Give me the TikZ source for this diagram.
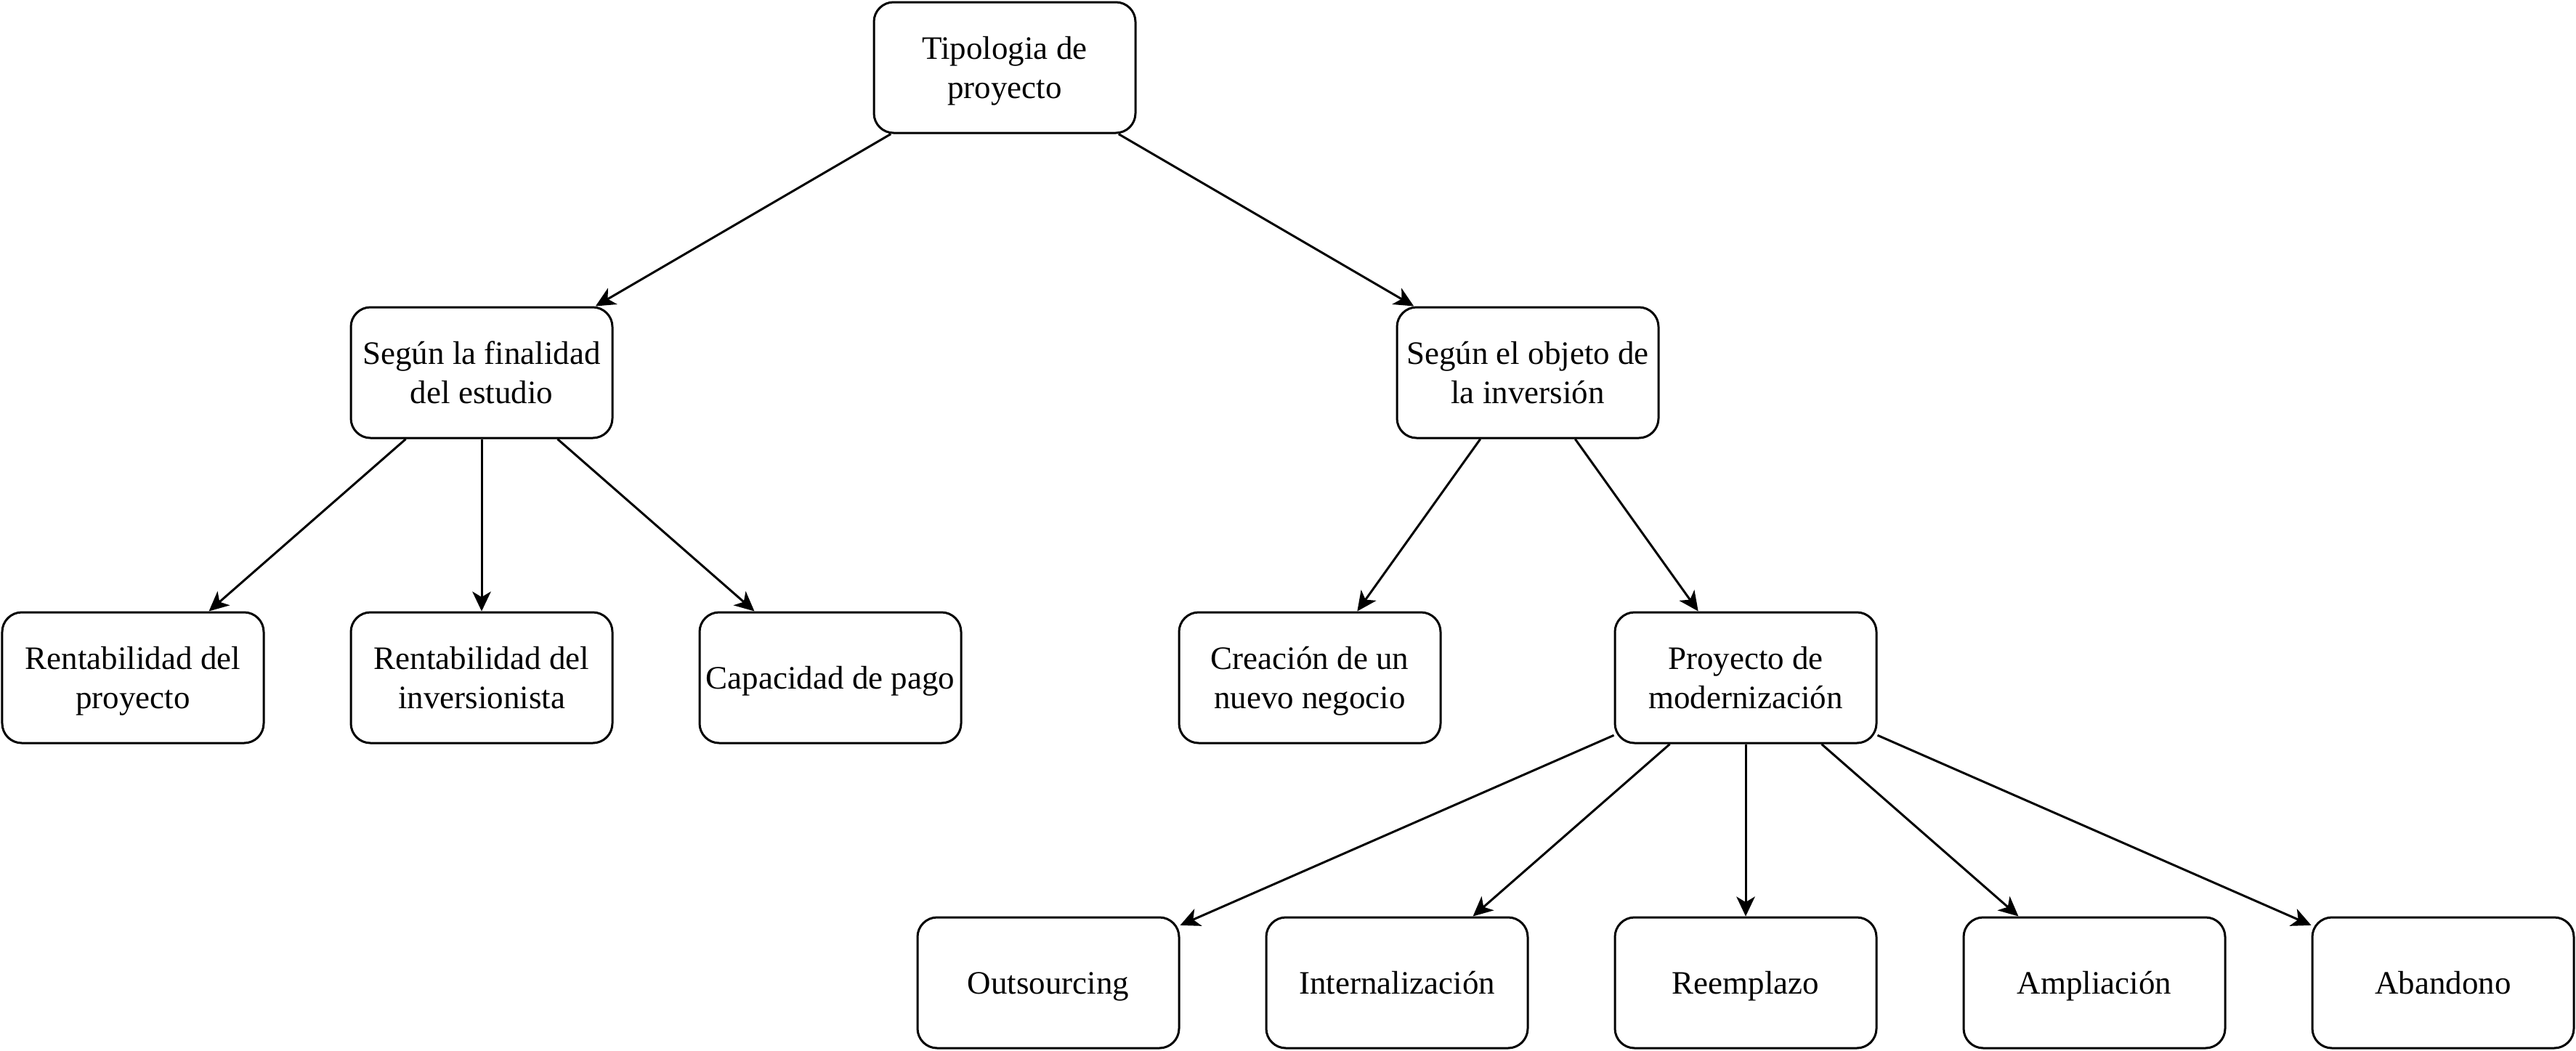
\documentclass[tikz,border=0pt]{standalone}
\usepackage{fontspec}
\setmainfont{Liberation Serif}
\usetikzlibrary{arrows.meta}
\newcommand{\lnstrut}{\rule[-3.9pt]{0pt}{18pt}}
\begin{document}
\begin{tikzpicture}[x=1pt,y=-1pt,
  box/.style={draw, line width=1pt, rounded corners=9pt, minimum width=120pt, minimum height=60pt,
    inner sep=0pt, align=center, font=\fontsize{15}{18}\selectfont},
  conn/.style={draw, line width=1pt, -{Stealth[length=9pt,width=8.5pt,inset=2.5pt]}}]
\useasboundingbox (-1,-1) rectangle (1181,481);
\node[box] (root) at (460,30) {\lnstrut Tipologia de\\\lnstrut proyecto};
\node[box] (fin) at (220,170) {\lnstrut Según la finalidad\\\lnstrut del estudio};
\node[box] (obj) at (700,170) {\lnstrut Según el objeto de\\\lnstrut la inversión};
\node[box] (rp) at (60,310) {\lnstrut Rentabilidad del\\\lnstrut proyecto};
\node[box] (ri) at (220,310) {\lnstrut Rentabilidad del\\\lnstrut inversionista};
\node[box] (cp) at (380,310) {\lnstrut Capacidad de pago};
\node[box] (cn) at (600,310) {\lnstrut Creación de un\\\lnstrut nuevo negocio};
\node[box] (pm) at (800,310) {\lnstrut Proyecto de\\\lnstrut modernización};
\node[box] (out) at (480,450) {\lnstrut Outsourcing};
\node[box] (int) at (640,450) {\lnstrut Internalización};
\node[box] (ree) at (800,450) {\lnstrut Reemplazo};
\node[box] (amp) at (960,450) {\lnstrut Ampliación};
\node[box] (aba) at (1120,450) {\lnstrut Abandono};
\draw[conn] (root) -- (fin);
\draw[conn] (root) -- (obj);
\draw[conn] (fin) -- (rp);
\draw[conn] (fin) -- (ri);
\draw[conn] (fin) -- (cp);
\draw[conn] (obj) -- (cn);
\draw[conn] (obj) -- (pm);
\draw[conn] (pm) -- (out);
\draw[conn] (pm) -- (int);
\draw[conn] (pm) -- (ree);
\draw[conn] (pm) -- (amp);
\draw[conn] (pm) -- (aba);
\end{tikzpicture}
\end{document}
